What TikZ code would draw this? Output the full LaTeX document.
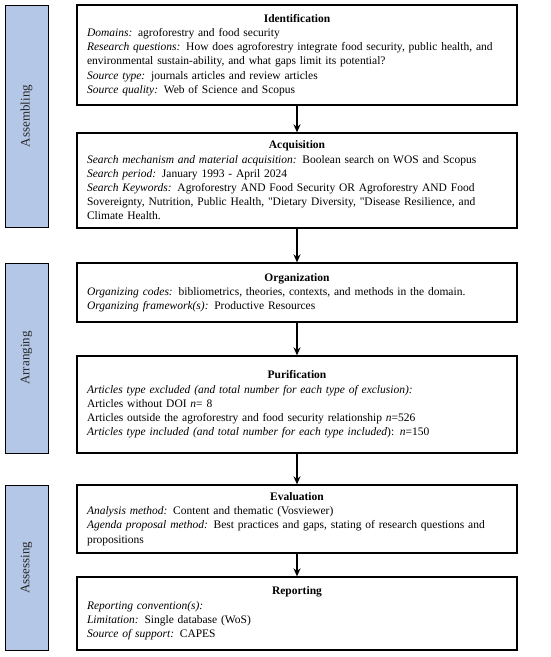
\documentclass[tikz,border=0pt]{standalone}
\usepackage{fontspec}
\setmainfont{Liberation Serif}
\usetikzlibrary{arrows,arrows.meta,positioning}
\definecolor{barblue}{RGB}{180,199,231}

\begin{document}
\begin{tikzpicture}[x=1pt,y=-1pt,>=stealth',shorten >=0pt]
    \useasboundingbox (0,0) rectangle (550,657);
    \tikzset{stepbox/.style={draw,line width=1.3pt,text width=420pt,minimum width=440pt,inner xsep=10pt,inner ysep=4pt,align=left,font=\fontsize{11.5}{14.2}\selectfont}}
    \tikzset{phasebar/.style={draw,line width=0.9pt,fill=barblue,rotate=90,minimum height=43pt,inner sep=0pt,text=black!85,font=\fontsize{13}{15}\selectfont}}
    \tikzset{flowarrow/.style={-{Stealth[length=8pt,width=7pt]},line width=1.3pt}}

    % phases
    \node[phasebar,minimum width=222pt] (Assem) at (26.5,116) {Assembling};
    \node[phasebar,minimum width=190pt] (Arran) at (26.5,358) {Arranging};
    \node[phasebar,minimum width=165pt] (Asses) at (26.5,567.5) {Assessing};

    % steps
    \node[stepbox,minimum height=100pt] (Ident) at (297,55) {\centerline{\textbf{Identification}}
        \textit{Domains:} agroforestry and food security\\
        \textit{Research questions:} How does agroforestry integrate food security, public health, and\\
        environmental sustain-ability, and what gaps limit its potential?\\
        \textit{Source type:} journals articles and review articles\\
        \textit{Source quality:} Web of Science and Scopus};
    \node[stepbox,minimum height=95pt] (Acqu) at (297,180.5) {\centerline{\textbf{Acquisition}}
        \textit{Search mechanism and material acquisition:} Boolean search on WOS and Scopus\\
        \textit{Search period:} January 1993 - April 2024\\
        \textit{Search Keywords:} Agroforestry AND Food Security OR Agroforestry AND Food\\
        Sovereignty, Nutrition, Public Health, \textquotedbl Dietary Diversity, \textquotedbl Disease Resilience, and\\
        Climate Health.};
    \node[stepbox,minimum height=59pt] (Org) at (297,292.5) {\centerline{\textbf{Organization}}
        \textit{Organizing codes:} bibliometrics, theories, contexts, and methods in the domain.\\
        \textit{Organizing framework(s):} Productive Resources};
    \node[stepbox,minimum height=97pt] (Pur) at (297,404.5) {\centerline{\textbf{Purification}}
        \textit{Articles type excluded (and total number for each type of exclusion):}\\
        Articles without DOI \textit{n}= 8\\
        Articles outside the agroforestry and food security relationship \textit{n}=526\\
        \textit{Articles type included (and total number for each type included}): \textit{n}=150};
    \node[stepbox,minimum height=68pt] (Eval) at (297,519) {\centerline{\textbf{Evaluation}}
        \textit{Analysis method:} Content and thematic (Vosviewer)\\
        \textit{Agenda proposal method:} Best practices and gaps, stating of research questions and\\
        propositions};
    \node[stepbox,minimum height=73pt] (Rep) at (297,613.5) {\centerline{\textbf{Reporting}}
        \textit{Reporting convention(s):}\\
        \textit{Limitation:} Single database (WoS)\\
        \textit{Source of support:} CAPES};

    \path (Ident) edge [flowarrow] (Acqu);
    \path (Acqu) edge [flowarrow] (Org);
    \path (Org) edge [flowarrow] (Pur);
    \path (Pur) edge [flowarrow] (Eval);
    \path (Eval) edge [flowarrow] (Rep);
\end{tikzpicture}
\end{document}
